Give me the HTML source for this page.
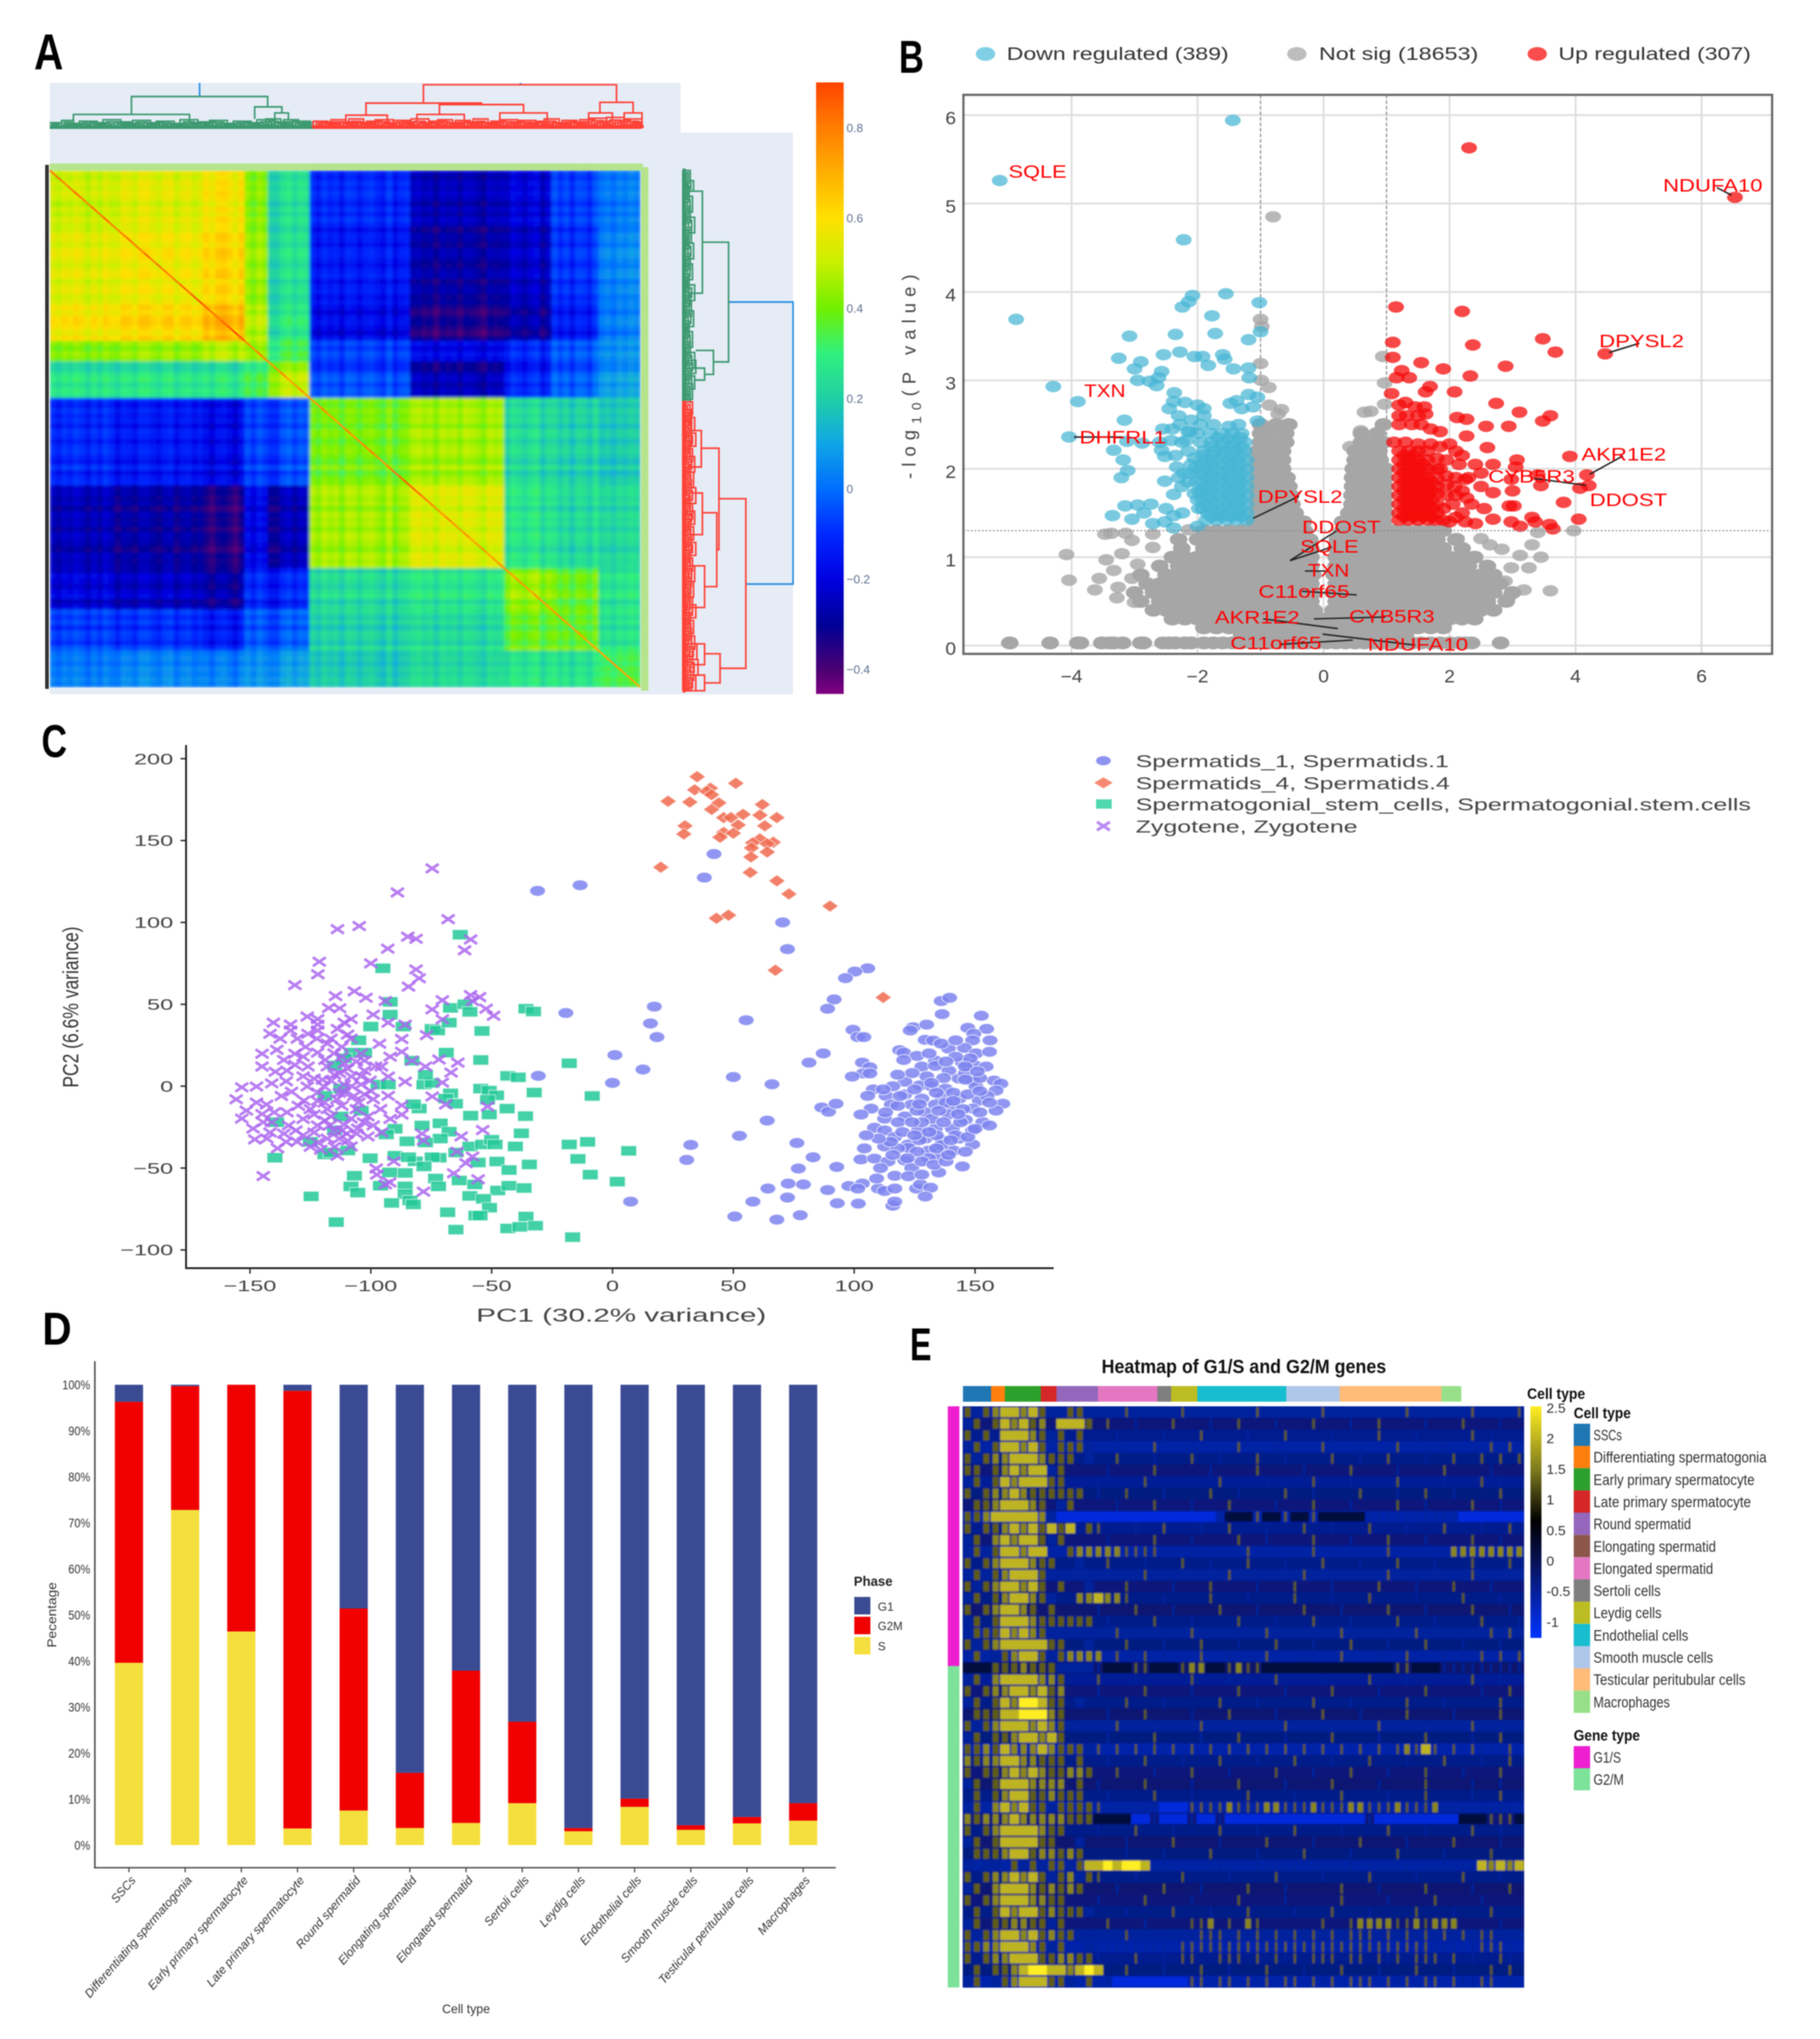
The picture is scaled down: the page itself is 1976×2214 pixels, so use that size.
<!DOCTYPE html>
<html lang="en">
<head>
<meta charset="utf-8">
<title>Multi-panel single-cell figure</title>
<style>
html,body{margin:0;padding:0;background:#fff}
svg{display:block;filter:blur(.6px)}
text{font-family:"Liberation Sans",sans-serif}
</style>
</head>
<body>
<svg id="figure" xmlns="http://www.w3.org/2000/svg" width="1976" height="2214" viewBox="0 0 1976 2214">
<defs>
<linearGradient id="cbarA" x1="0" y1="1" x2="0" y2="0"></linearGradient>
<linearGradient id="cbarE" x1="0" y1="1" x2="0" y2="0"></linearGradient>
<clipPath id="topDendroClip"><rect x="54" y="90" width="685" height="54"></rect></clipPath>
<filter id="softA" x="0" y="0" width="1" height="1"><feGaussianBlur stdDeviation="1.5"></feGaussianBlur></filter>
<filter id="softE" x="0" y="0" width="1" height="1"><feGaussianBlur stdDeviation="0.8"></feGaussianBlur></filter>
</defs>
<rect x="0" y="0" width="1976" height="2214" fill="#fff"></rect>

<!-- panel letters -->
<text transform="translate(37,75) scale(.8,1)" font-size="55" font-weight="bold" fill="#000">A</text>
<text transform="translate(976,79) scale(.75,1)" font-size="50" font-weight="bold" fill="#000">B</text>
<text transform="translate(45,822) scale(.77,1)" font-size="50" font-weight="bold" fill="#000">C</text>
<text transform="translate(46,1460) scale(.88,1)" font-size="50" font-weight="bold" fill="#000">D</text>
<text transform="translate(988,1477) scale(.7,1)" font-size="50" font-weight="bold" fill="#000">E</text>

<!-- panel A -->
<g id="panelA">
<rect x="54" y="90" width="685" height="664" fill="#e5ecf6"></rect>
<rect x="739" y="144" width="122" height="610" fill="#e5ecf6"></rect>
<g id="topDendro" clip-path="url(#topDendroClip)"></g>
<g id="sideDendro"></g>
<rect x="54" y="177.5" width="644" height="7.5" fill="#b5e48c"></rect>
<rect x="696" y="181.5" width="8" height="568.5" fill="#b5e48c"></rect>
<rect x="49" y="179" width="4" height="569" fill="#333"></rect>
<g id="corrCells" shape-rendering="crispEdges" filter="url(#softA)"></g>
<g id="corrDiagonal"></g>
<rect x="886" y="89.5" width="30" height="664" fill="url(#cbarA)"></rect>
<g id="corrTicks"></g>
</g>

<!-- panel B -->
<g id="panelB">
<ellipse cx="1070" cy="58.6" rx="10.5" ry="7.5" fill="#7fd0e6"></ellipse>
<text x="1093" y="65" font-size="19" fill="#333" textLength="241" lengthAdjust="spacingAndGlyphs">Down regulated (389)</text>
<ellipse cx="1408" cy="58.6" rx="10.5" ry="7.5" fill="#bdbdbd"></ellipse>
<text x="1432" y="65" font-size="19" fill="#333" textLength="173" lengthAdjust="spacingAndGlyphs">Not sig (18653)</text>
<ellipse cx="1669" cy="58.6" rx="10.5" ry="7.5" fill="#fb4d4d"></ellipse>
<text x="1692" y="65" font-size="19" fill="#333" textLength="209" lengthAdjust="spacingAndGlyphs">Up regulated (307)</text>
<g id="volcanoAxes"></g>
<g id="volcanoPoints"></g>
<rect x="1046" y="103" width="878" height="607" fill="none" stroke="#666" stroke-width="2.4"></rect>
<text transform="translate(994,520) rotate(-90)" font-size="20" fill="#444" textLength="222" lengthAdjust="spacing">-log<tspan font-size="15" dy="6">10</tspan><tspan dy="-6">(P value)</tspan></text>
<g stroke="#222" stroke-width="1.6">
<line x1="1864" y1="203.7" x2="1880" y2="212"></line>
<line x1="1747" y1="382.8" x2="1780" y2="372.7"></line>
<line x1="1166" y1="474.6" x2="1219" y2="474.6"></line>
<line x1="1726" y1="515" x2="1762" y2="495"></line>
<line x1="1666" y1="519.6" x2="1722" y2="527"></line>
<line x1="1360.5" y1="562.8" x2="1410" y2="539"></line>
<line x1="1400.6" y1="608.7" x2="1453.8" y2="574.7"></line>
<line x1="1400.6" y1="608.7" x2="1446" y2="594"></line>
<line x1="1416.8" y1="620" x2="1442.8" y2="620"></line>
<line x1="1413.6" y1="642" x2="1473" y2="646"></line>
<line x1="1371.5" y1="672" x2="1452.5" y2="682.6"></line>
<line x1="1426.6" y1="672" x2="1504" y2="670"></line>
<line x1="1391" y1="699.6" x2="1468.7" y2="695"></line>
<line x1="1436" y1="688.6" x2="1536.7" y2="700.5"></line>
</g>
<g font-size="19" fill="#f00">
<text x="1095" y="193" textLength="63" lengthAdjust="spacingAndGlyphs">SQLE</text>
<text x="1805.6" y="208" textLength="108" lengthAdjust="spacingAndGlyphs">NDUFA10</text>
<text x="1736.3" y="377" textLength="92" lengthAdjust="spacingAndGlyphs">DPYSL2</text>
<text x="1177" y="431" textLength="45" lengthAdjust="spacingAndGlyphs">TXN</text>
<text x="1172" y="481.6" textLength="94" lengthAdjust="spacingAndGlyphs">DHFRL1</text>
<text x="1717" y="500" textLength="92" lengthAdjust="spacingAndGlyphs">AKR1E2</text>
<text x="1615.8" y="524" textLength="94" lengthAdjust="spacingAndGlyphs">CYB5R3</text>
<text x="1726" y="549.6" textLength="84" lengthAdjust="spacingAndGlyphs">DDOST</text>
<text x="1365.6" y="546" textLength="92" lengthAdjust="spacingAndGlyphs">DPYSL2</text>
<text x="1413.6" y="579" textLength="85.5" lengthAdjust="spacingAndGlyphs">DDOST</text>
<text x="1411.7" y="600" textLength="63.5" lengthAdjust="spacingAndGlyphs">SQLE</text>
<text x="1420" y="626" textLength="45" lengthAdjust="spacingAndGlyphs">TXN</text>
<text x="1366.3" y="649" textLength="99" lengthAdjust="spacingAndGlyphs">C11orf65</text>
<text x="1319" y="677" textLength="92" lengthAdjust="spacingAndGlyphs">AKR1E2</text>
<text x="1464.8" y="676" textLength="92.7" lengthAdjust="spacingAndGlyphs">CYB5R3</text>
<text x="1335.8" y="705" textLength="99" lengthAdjust="spacingAndGlyphs">C11orf65</text>
<text x="1485" y="706.6" textLength="109" lengthAdjust="spacingAndGlyphs">NDUFA10</text>
</g>
</g>

<!-- panel C -->
<g id="panelC">
<g id="pcaAxes"></g>
<g id="pcaPoints"></g>
<text x="517" y="1435" font-size="20" fill="#444" textLength="315" lengthAdjust="spacingAndGlyphs">PC1 (30.2% variance)</text>
<text transform="translate(85,1181) rotate(-90)" font-size="24" fill="#333" textLength="175" lengthAdjust="spacingAndGlyphs">PC2 (6.6% variance)</text>
<ellipse cx="1198" cy="826" rx="8" ry="5" fill="#8d93f2"></ellipse>
<text x="1233" y="833" font-size="18" fill="#444" textLength="340" lengthAdjust="spacingAndGlyphs">Spermatids_1, Spermatids.1</text>
<polygon points="1188,850 1198,844 1208,850 1198,856" fill="#f58a72"></polygon>
<text x="1233" y="857" font-size="18" fill="#444" textLength="341" lengthAdjust="spacingAndGlyphs">Spermatids_4, Spermatids.4</text>
<rect x="1190" y="868" width="17" height="10" fill="#4fd8ae"></rect>
<text x="1233" y="880" font-size="18" fill="#444" textLength="668" lengthAdjust="spacingAndGlyphs">Spermatogonial_stem_cells, Spermatogonial.stem.cells</text>
<path d="M1191 892.5L1205 901.5M1205 892.5L1191 901.5" stroke="#b98af5" stroke-width="3.2" fill="none"></path>
<text x="1233" y="904" font-size="18" fill="#444" textLength="241" lengthAdjust="spacingAndGlyphs">Zygotene, Zygotene</text>
</g>

<!-- panel D -->
<g id="panelD">
<g id="barAxes"></g>
<g id="barMarks"></g>
<text transform="translate(61,1789) rotate(-90)" font-size="14" fill="#333" textLength="71" lengthAdjust="spacingAndGlyphs">Pecentage</text>
<text x="480" y="2186" font-size="14" fill="#333" textLength="52" lengthAdjust="spacingAndGlyphs">Cell type</text>
<text x="927" y="1722" font-size="15" font-weight="bold" fill="#222" textLength="42" lengthAdjust="spacingAndGlyphs">Phase</text>
<rect x="927.5" y="1734" width="17.5" height="19" fill="#3a4b94"></rect>
<text x="953" y="1749" font-size="13" fill="#333">G1</text>
<rect x="927.5" y="1755.5" width="17.5" height="19" fill="#f00000"></rect>
<text x="953" y="1770" font-size="13" fill="#333" textLength="27" lengthAdjust="spacingAndGlyphs">G2M</text>
<rect x="927.5" y="1777.5" width="17.5" height="19" fill="#f5df3e"></rect>
<text x="953" y="1792" font-size="13" fill="#333">S</text>
</g>

<!-- panel E -->
<g id="panelE">
<text x="1196" y="1491" font-size="21" font-weight="bold" fill="#111" textLength="309" lengthAdjust="spacingAndGlyphs">Heatmap of G1/S and G2/M genes</text>
<g id="cellStrip" shape-rendering="crispEdges"></g>
<rect x="1029" y="1527" width="12.6" height="282" fill="#ee1fd0"></rect>
<rect x="1029" y="1809" width="12.6" height="349" fill="#7de29a"></rect>
<rect x="1045.4" y="1527" width="609.2" height="631" fill="#061c88"></rect>
<g id="exprCells" filter="url(#softE)"></g>
<rect x="1661.6" y="1527" width="12" height="251.5" fill="url(#cbarE)"></rect>
<g id="exprTicks"></g>
<text x="1658" y="1519" font-size="17" font-weight="bold" fill="#111" textLength="63" lengthAdjust="spacingAndGlyphs">Cell type</text>
<text x="1708.6" y="1540" font-size="17" font-weight="bold" fill="#111" textLength="62" lengthAdjust="spacingAndGlyphs">Cell type</text>
<g id="cellLegend"></g>
<text x="1708.6" y="1890" font-size="17" font-weight="bold" fill="#111" textLength="72" lengthAdjust="spacingAndGlyphs">Gene type</text>
<rect x="1708.6" y="1896" width="17.8" height="24" fill="#ee1fd0"></rect>
<text x="1730" y="1914" font-size="17" fill="#333" textLength="30" lengthAdjust="spacingAndGlyphs">G1/S</text>
<rect x="1708.6" y="1920" width="17.8" height="24" fill="#7de29a"></rect>
<text x="1730" y="1938" font-size="17" fill="#333" textLength="33" lengthAdjust="spacingAndGlyphs">G2/M</text>
</g>
</svg>

<script>
/* ---------- panel A data ---------- */
const corrClusterSizes=[11,15,7,4,7,17,16,8,8,7];
const corrBlocks=[
[.5,.53,.57,.41,.24,-.12,-.27,-.22,-.08,-.02],
[.53,.56,.6,.43,.24,-.15,-.3,-.25,-.1,0],
[.57,.6,.66,.46,.26,-.2,-.36,-.3,-.15,-.02],
[.41,.43,.46,.43,.32,-.08,-.2,-.12,-.04,.02],
[.26,.26,.26,.32,.48,-.06,-.27,-.12,-.03,.05],
[-.12,-.15,-.2,-.08,-.06,.39,.44,.22,.2,.14],
[-.27,-.3,-.36,-.2,-.27,.44,.51,.25,.22,.18],
[-.22,-.25,-.3,-.12,-.12,.22,.25,.43,.38,.22],
[-.08,-.1,-.15,-.04,-.03,.2,.22,.38,.38,.22],
[-.02,0,-.02,.02,.05,.14,.18,.22,.22,.26]];
const geneOffsets=[.01,-.02,.02,0,.03,.01,-.03,.02,-.02,.03,0,
-.03,.02,.01,-.02,.03,.03,0,-.02,.02,.03,-.03,.01,.02,-.02,0,
.02,-.02,.03,.04,.01,-.03,.03,
.02,-.02,.03,0,
-.05,-.05,.01,.03,-.02,.02,.01,
.02,-.02,.03,0,.02,-.03,.03,.02,-.02,.02,.03,0,-.03,.04,-.04,.01,.02,
.02,.03,0,.02,-.03,.03,.01,.02,-.02,.03,.02,0,-.03,.03,.01,.02,
-.03,.03,.01,-.02,.02,.04,-.04,.01,
.03,-.02,.02,-.04,.02,.01,-.03,.04,
.02,.04,.01,.05,.03,.06,.04];
const corrDiagonalValues=[.8,.82,.78,.8,.84,.8,.78,.82,.8,.84,.8,.78,.8,.82,.8,.78,.84,.8,.82,.8,.78,.8,.84,.82,.86,.88,.84,.82,.8,.84,.86,.9,.86,.78,.76,.8,.78,.74,.76,.78,.72,.74,.76,.72,.74,.76,.78,.74,.72,.76,.78,.74,.76,.78,.8,.76,.74,.78,.82,.84,.86,.84,.82,.8,.78,.76,.74,.78,.76,.74,.76,.72,.74,.76,.72,.74,.76,.74,.72,.76,.74,.72,.76,.74,.72,.74,.76,.74,.72,.74,.72,.7,.72,.7,.72,.74,.72,.7,.72,.7];
const corrScale=[[-.454,128,0,128],[-.4,75,0,115],[-.3,0,0,150],[-.2,0,0,225],[-.1,0,40,255],[0,0,110,255],[.1,16,165,230],[.2,32,208,165],[.3,48,240,125],[.4,112,240,0],[.5,200,240,0],[.6,255,224,0],[.7,255,175,0],[.8,255,125,0],[.9,255,69,0]];
const corrTickValues=[.8,.6,.4,.2,0,-.2,-.4];
const corrTickLabels=['0.8','0.6','0.4','0.2','0','\u22120.2','\u22120.4'];
const treeLeft=[.253,.138,.04,.346,.38,.631,.534,.658,.929,.5,.62,.76,.91,.97,.46,.0,.445];
const treeRight=[.795,.368,.236,.392,.403,.957,.729,.8,.985,.57,.7,.84,.95,1,.53,.445,1];
const treeHeight=[1,.417,.18,.28,.2,.573,.33,.31,.34,.17,.18,.2,.2,.2,.08,.012,.012];
const treeLeftChild=[.417,.18,.07,.12,.1,.33,.17,.18,.2,.08,.1,.09,.12,.07,.04,0,0];
const treeRightChild=[.573,.28,.07,.2,.1,.34,.31,.2,.2,.09,.08,.08,.08,.12,.04,0,0];
const treeClade=['b','g','g','g','g','r','r','r','r','r','r','r','r','r','r','g','r'];
const combLeft=[.0,.02,.03,.05,.07,.09,.11,.125,.14,.16,.18,.2,.22,.235,.25,.27,.29,.31,.33,.35,.365,.38,.395,.41,.425,.445,.46,.475,.49,.505,.52,.535,.55,.565,.58,.595,.61,.625,.64,.655,.67,.685,.7,.715,.73,.745,.76,.775,.79,.805,.82,.835,.85,.865,.88,.895,.91,.925,.94,.955,.97,.985];
const combRight=[.02,.04,.06,.08,.1,.12,.14,.15,.17,.19,.21,.23,.25,.26,.28,.3,.32,.34,.36,.38,.39,.41,.42,.44,.445,.47,.49,.5,.52,.53,.55,.56,.58,.59,.61,.62,.64,.65,.67,.68,.7,.71,.73,.74,.76,.77,.79,.8,.82,.83,.85,.86,.88,.89,.91,.92,.94,.95,.97,.98,1,1];
const combHeight=[.07,.1,.06,.09,.07,.11,.08,.06,.1,.07,.09,.06,.11,.07,.08,.1,.06,.09,.07,.11,.12,.08,.11,.09,.07,.09,.07,.11,.08,.12,.07,.09,.11,.07,.1,.08,.12,.07,.09,.11,.07,.1,.08,.12,.07,.09,.11,.08,.1,.07,.09,.12,.07,.1,.08,.11,.13,.09,.14,.1,.12,.08];

/* ---------- panel B data ---------- */
const volcanoXTicks=[-4,-2,0,2,4,6];
const volcanoYTicks=[0,1,2,3,4,5,6];
const notSigLevels=[.03,.12,.2,.3,.4,.5,.6,.7,.8,.9,1,1.1,1.2,1.3,1.4,1.5,1.6,1.7,1.8,1.9,2,2.1,2.2,2.3,2.4,2.5];
const notSigRows=[
[-4.98,-4.34,-3.9,-3.86,-3.52,-3.4,-3.33,-3.19,-2.9,-2.86,-2.55,-2.45,-2.35,-2.2,-2.1,-1.9,-1.75,-1.6,-1.45,-1.3,-1.15,-1,-.85,-.7,-.55,-.4,-.25,-.1,.05,.2,.35,.5,.65,.8,.95,1.1,1.25,1.4,1.55,1.7,1.85,2,2.15,2.25,2.35,2.81],
[-1.3,-1.1,-.9,-.7,-.5,-.3,-.1,.1,.3,.5,.7,.9,1.1,1.3],
[-1.9,-1.7,-1.5,-1.3,-1.1,-.9,-.7,-.5,-.3,-.1,.1,.3,.5,.7,.9,1.1,1.3,1.5,1.7,1.9],
[-2.4,-2.2,-2,-1.8,-1.6,-1.4,-1.2,-1,-.8,-.6,-.4,-.2,0,.2,.4,.6,.8,1,1.2,1.4,1.6,1.8,2,2.2,2.4],
[-2.7,-2.5,-2.3,-2.1,-1.9,-1.7,-1.5,-1.3,-1.1,-.9,-.7,-.5,-.3,-.15,.15,.3,.5,.7,.9,1.1,1.3,1.5,1.7,1.9,2.1,2.3,2.5,2.7],
[-2.9,-2.6,-2.4,-2.2,-2,-1.8,-1.6,-1.4,-1.2,-1,-.8,-.6,-.4,-.2,.2,.4,.6,.8,1,1.2,1.4,1.6,1.8,2,2.2,2.4,2.6,2.9],
[-3,-2.7,-2.5,-2.3,-2.1,-1.9,-1.7,-1.5,-1.3,-1.1,-.9,-.7,-.5,-.3,-.15,.15,.3,.5,.7,.9,1.1,1.3,1.5,1.7,1.9,2.1,2.3,2.5,2.7,3],
[-2.8,-2.6,-2.4,-2.2,-2,-1.8,-1.6,-1.4,-1.2,-1,-.8,-.6,-.4,-.2,.2,.4,.6,.8,1,1.2,1.4,1.6,1.8,2,2.2,2.4,2.6,2.8],
[-2.9,-2.5,-2.3,-2.1,-1.9,-1.7,-1.5,-1.3,-1.1,-.9,-.7,-.5,-.3,-.17,.17,.3,.5,.7,.9,1.1,1.3,1.5,1.7,1.9,2.1,2.3,2.5,2.7],
[-2.6,-2.3,-2.1,-1.9,-1.7,-1.5,-1.3,-1.1,-.9,-.7,-.5,-.35,-.2,.2,.35,.5,.7,.9,1.1,1.3,1.5,1.7,1.9,2.1,2.3,2.6],
[-2.4,-2.2,-2,-1.8,-1.6,-1.4,-1.2,-1,-.8,-.6,-.4,-.2,.2,.4,.6,.8,1,1.2,1.4,1.6,1.8,2,2.2,2.4],
[-2.25,-1.9,-1.7,-1.5,-1.3,-1.1,-.9,-.7,-.5,-.35,-.2,.2,.35,.5,.7,.9,1.1,1.3,1.5,1.7,1.9,2.2],
[-2.3,-2,-1.8,-1.6,-1.4,-1.2,-1,-.8,-.6,-.4,-.22,.22,.4,.6,.8,1,1.2,1.4,1.6,1.8,2.1],
[-1.9,-1.7,-1.5,-1.3,-1.1,-.9,-.7,-.5,-.3,.3,.5,.7,.9,1.1,1.3,1.5,1.7,1.9],
[-1.1,-.9,-.7,-.5,-.32,.3,.5,.7,.95],
[-1.05,-.85,-.65,-.45,.4,.6,.8,.98],
[-1.05,-.85,-.65,-.5,.45,.65,.85,.98],
[-1.05,-.85,-.65,-.52,.45,.65,.85,.98],
[-1.05,-.85,-.7,-.55,.46,.65,.85,.98],
[-1.05,-.85,-.7,-.58,.46,.65,.85,.98],
[-1.05,-.85,-.65,.47,.65,.82,.98],
[-1.05,-.85,-.65,.5,.7,.9],
[-1.05,-.85,-.65,.5,.7,.88],
[-1,-.8,-.6,.6,.8,.95],
[-1,-.85,-.6,.6,.85],
[-1,-.75,-.55,.95]];
const notSigScatter=[[-.8,4.85],[-1,3.69],[-.98,3.61],[-1,3.19],[-.99,3],[-.87,2.92],[.94,3.27],[.97,2.97],[-.86,2.72],[-.67,2.67],[-.72,2.62],[.65,2.64],[.75,2.65],[.97,2.73],[.59,2.43],[.42,2.25],[-4.08,1.03],[-4.04,.74],[-3.63,.63],[-3.56,.76],[-3.45,.97],[-3.33,.85],[-3.47,1.26],[-3.37,1.27],[-3.14,1.27],[-3.04,1.19],[-3.2,1.04],[-3.26,.66],[-3.28,.54],[-3.04,.76],[-3,.49],[-2.71,1.26],[-2.71,1.11],[-2.14,1.31],[-2.95,.92],[3.97,1.3],[3.6,.62],[3.45,1],[3.26,.88],[3.18,.63],[2.93,.54],[2.88,.73],[2.5,1.21],[2.64,1.14],[2.83,1.09],[3.12,1.02],[3.31,1.14],[3.4,1.28],[2.98,.88],[2.12,1.21]];
const downRegulated=[[-5.14,5.26],[-1.44,5.94],[-2.22,4.59],[-4.88,3.69],[-2.08,3.96],[-1.55,3.98],[-1.02,3.88],[-2.24,3.83],[-2.14,3.89],[-1.77,3.73],[-3.08,3.5],[-2.35,3.52],[-1.72,3.53],[-1.19,3.46],[-1,3.55],[-3.25,3.25],[-2.54,3.29],[-2.28,3.32],[-2.05,3.27],[-1.92,3.27],[-1.6,3.29],[-1.57,3.24],[-2.9,3.21],[-3,3.13],[-1.83,3.17],[-1.43,3.13],[-1.19,3.14],[-1.18,3.03],[-2.57,3.1],[-2.62,3.03],[-4.29,2.93],[-2.95,3],[-2.76,2.99],[-2.65,2.94],[-3.9,2.76],[-2.37,2.86],[-1.19,2.84],[-1.05,2.81],[-1.38,2.77],[-1.48,2.74],[-2.38,2.76],[-2.2,2.75],[-2.45,2.68],[-2,2.72],[-1.9,2.68],[-2.3,2.6],[-1.9,2.6],[-3.16,2.55],[-1.05,2.54],[-2.1,2.55],[-1.3,2.68],[-1.12,2.7],[-4.04,2.36],[-3.33,2.21],[-3.12,2.31],[-2.88,2.29],[-3.18,2.1],[-3.11,1.98],[-3.21,1.9],[-2.52,1.86],[-2.38,1.71],[-3.35,1.47],[-3.15,1.58],[-2.95,1.59],[-2.74,1.6],[-2.85,1.5],[-3.04,1.43],[-2.5,1.55],[-2.71,1.38],[-2.52,1.4],[-2.38,1.47],[-2.38,1.33],[-2.24,1.5],[-2,1.35],[-2.57,2.21],[-2.52,2.14],[-2.33,2.02],[-2.22,1.95],[-2.15,1.85],[-2.05,1.72],[-2.55,2.45],[-2.4,2.45],[-2.6,2.3],[-2.25,2.3],[-2.35,2.15],[-2.15,2.2],[-2.1,2.05],[-2.25,1.8],[-2.42,2.32],[-2.28,2.5],[-2.12,2.42],[-2.18,2.32],[-2.3,1.9],[-2.12,1.95],
[-1.22,1.42],[-1.38,1.42],[-1.54,1.42],[-1.7,1.42],[-1.86,1.42],[-1.3,1.46],[-1.46,1.46],[-1.62,1.46],[-1.78,1.46],[-1.22,1.5],[-1.36,1.5],[-1.52,1.5],[-1.68,1.5],[-1.84,1.5],[-1.98,1.55],[-1.3,1.55],[-1.46,1.55],[-1.62,1.55],[-1.78,1.55],[-1.92,1.55],[-1.22,1.6],[-1.38,1.6],[-1.52,1.6],[-1.7,1.6],[-1.86,1.6],[-2,1.65],[-1.3,1.65],[-1.46,1.65],[-1.62,1.65],[-1.78,1.65],[-1.92,1.65],[-1.22,1.7],[-1.36,1.7],[-1.52,1.7],[-1.68,1.7],[-1.84,1.7],[-1.98,1.75],[-1.3,1.75],[-1.46,1.75],[-1.62,1.75],[-1.78,1.75],[-1.92,1.75],[-1.22,1.8],[-1.38,1.8],[-1.52,1.8],[-1.7,1.8],[-1.86,1.8],[-2.02,1.85],[-1.3,1.85],[-1.46,1.85],[-1.62,1.85],[-1.78,1.85],[-1.92,1.85],[-1.22,1.9],[-1.36,1.9],[-1.52,1.9],[-1.68,1.9],[-1.84,1.9],[-2,1.95],[-1.3,1.95],[-1.46,1.95],[-1.62,1.95],[-1.78,1.95],[-1.92,1.95],[-1.22,2],[-1.38,2],[-1.52,2],[-1.7,2],[-1.86,2],[-2.02,2.02],[-1.3,2.05],[-1.46,2.05],[-1.62,2.05],[-1.78,2.05],[-1.92,2.05],[-1.22,2.1],[-1.38,2.1],[-1.52,2.1],[-1.7,2.1],[-1.86,2.1],[-2.05,2.12],[-1.3,2.15],[-1.46,2.15],[-1.62,2.15],[-1.78,2.15],[-1.92,2.15],[-1.25,2.2],[-1.4,2.2],[-1.55,2.2],[-1.72,2.2],[-1.9,2.2],[-1.3,2.25],[-1.46,2.25],[-1.62,2.25],[-1.78,2.25],[-1.25,2.3],[-1.42,2.3],[-1.6,2.3],[-1.78,2.3],[-1.95,2.3],[-1.32,2.35],[-1.5,2.35],[-1.68,2.35],[-1.3,2.4],[-1.45,2.4],[-1.62,2.4],[-1.8,2.4],[-2,2.4],[-2.15,2.42],[-1.35,2.5],[-1.5,2.48],[-1.75,2.5],[-1.95,2.5]];
const upRegulated=[[2.31,5.63],[6.53,5.07],[1.15,3.83],[2.2,3.78],[1.1,3.43],[2.37,3.4],[3.48,3.47],[3.68,3.32],[4.47,3.3],[1.1,3.26],[1.55,3.2],[1.9,3.13],[2.89,3.16],[1.24,3.11],[1.16,3.03],[1.36,3.03],[2.33,3.05],[1.69,2.93],[1.62,2.87],[2.08,2.87],[1.08,2.85],[2.74,2.74],[3.11,2.64],[3.6,2.6],[3.48,2.54],[2.12,2.58],[2.27,2.56],[2.58,2.48],[2.94,2.48],[2.27,2.37],[3.91,2.14],[4.18,1.93],[4.21,1.81],[4.07,1.78],[3.81,1.62],[4.05,1.43],[3.07,2.1],[3.05,2.02],[3.4,1.93],[3.45,1.81],[2.98,1.88],[3,1.75],[2.69,1.73],[2.95,1.58],[3.02,1.58],[2.98,1.4],[3.12,1.35],[3.31,1.45],[3.36,1.4],[3.59,1.37],[3.64,1.32],[2.69,1.43],[2.41,1.38],[2.55,1.55],[2.27,1.67],[2.41,2.05],[2.69,2.05],[2.6,2.24],[2.5,1.95],[2.5,1.8],
[1.2,2.72],[1.3,2.75],[1.45,2.7],[1.6,2.7],[1.2,2.6],[1.32,2.6],[1.5,2.6],[1.62,2.62],[1.2,2.5],[1.4,2.5],[1.55,2.5],[1.7,2.45],[1.85,2.42],[1.12,2.3],[1.3,2.3],[1.5,2.28],[1.7,2.28],[1.85,2.25],[2.1,2.2],[2,2.28],[2.2,2.15],[1.95,2.1],[2.15,2.05],
[1.2,1.42],[1.35,1.42],[1.5,1.42],[1.65,1.42],[1.78,1.42],[1.28,1.46],[1.43,1.46],[1.58,1.46],[1.72,1.46],[1.2,1.5],[1.35,1.5],[1.5,1.5],[1.65,1.5],[1.8,1.5],[1.28,1.55],[1.43,1.55],[1.58,1.55],[1.72,1.55],[1.2,1.6],[1.35,1.6],[1.5,1.6],[1.65,1.6],[1.8,1.6],[1.28,1.65],[1.43,1.65],[1.58,1.65],[1.72,1.65],[1.2,1.7],[1.35,1.7],[1.5,1.7],[1.65,1.7],[1.8,1.72],[1.95,1.7],[1.28,1.75],[1.43,1.75],[1.58,1.75],[1.72,1.75],[1.2,1.8],[1.35,1.8],[1.5,1.8],[1.65,1.8],[1.8,1.8],[1.95,1.82],[2.08,1.8],[1.28,1.85],[1.43,1.85],[1.58,1.85],[1.72,1.85],[1.2,1.9],[1.35,1.9],[1.5,1.9],[1.65,1.9],[1.8,1.9],[1.95,1.92],[2.1,1.9],[1.28,1.95],[1.43,1.95],[1.58,1.95],[1.2,2],[1.35,2],[1.5,2],[1.65,2],[1.8,2],[1.28,2.05],[1.43,2.05],[1.58,2.05],[1.2,2.1],[1.35,2.1],[1.5,2.1],[1.65,2.1],[1.8,2.12],[1.28,2.15],[1.43,2.15],[1.2,2.2],[1.35,2.2],[1.5,2.2],[1.65,2.2],[1.9,1.55],[2.1,1.45],[2.05,1.6],[2.2,1.5],[2.25,1.4],[2,1.4],[2.2,1.75],[2.35,1.6],[2.3,1.9],[1.85,2],[1.9,1.42],[2.1,1.7],[2.25,1.88]];

/* ---------- panel C data ---------- */
const pcaXTicks=[-150,-100,-50,0,50,100,150];
const pcaYTicks=[200,150,100,50,0,-50,-100];
const spermatids1=[[42,141.8],[38,127.4],[-31,119.3],[-13.4,122.7],[70.4,100],[72.4,83.7],[105.6,72],[100.3,70],[96.4,66],[91.7,53],[89,47.3],[17.3,48.6],[-19.3,44.7],[15.7,38.3],[18.4,30],[55.3,40.3],[1,19],[12.6,10.2],[0,2],[-30.7,6.3],[50,5.6],[66,1.2],[81.3,14.4],[87.2,20],[86.6,-13],[89.4,-15.6],[92.5,-10.7],[64,-21],[52.5,-30.3],[32.4,-35.9],[30.7,-45],[76.3,-34.7],[83,-43.4],[76.9,-50.3],[92.8,-49.3],[72.7,-59.5],[79,-60],[64.3,-62.5],[58.1,-70.5],[50.6,-79.6],[68,-81.5],[77.7,-78.8],[72.4,-68],[7.5,-70.5],[89,-63.4],[93,-71.5],[97.8,-61],[103.4,-59.5],[101.5,-62.5],[101.7,-71.7],[110,-62.5],[112.6,-64],[116.8,-62.5],[116,-73],[116.8,-70.5],[125.8,-62.5],[127.4,-60],[131.6,-62],[129.4,-67.4],[136,52],[139.5,54],[136.4,44],[152.6,43],[99.5,34.4],[101.5,30],[104,30],[124.4,36],[130,37.6],[123.2,34],[147,35.6],[154.8,35],[149.5,32],[149,28],[156.2,28],[129.4,28.3],[132.8,27.8],[139,23],[145.6,23.4],[118.8,22],[120.5,20.5],[126,18.5],[120.5,16],[150.4,20],[156,21],[103.4,14.4],[106.5,11.5],[103.7,7.8],[99.2,5.9],[106.5,7.8],[133.6,15.6],[128,12],[133.6,12.4],[139.2,9.5],[144.8,14.4],[149.5,13],[154.6,12],[143.4,4.6],[149,3.4],[157.9,3.4],[160.7,1.5],[121,2.7],[127.2,.5],[132.2,-.2],[137.8,-1.5],[150.4,-.2],[158.7,-2.7],[107.9,-2],[105.6,-5.9],[113.2,-5.9],[121,-5],[128,-7.6],[136.4,-6.8],[143.4,-7.6],[151.8,-8.8],[161.5,-10.7],[115.4,-11.2],[123.8,-11.2],[133.6,-11.2],[140.6,-12.4],[149,-13.7],[158.7,-14.9],[107,-13.7],[102.8,-17.3],[112.6,-19.8],[121,-18.5],[129.4,-16],[139,-17.3],[146,-20.5],[153.2,-22],[108.4,-25.4],[118.2,-22],[126.6,-27],[133.6,-25.9],[140.6,-25.9],[149,-27],[112.6,-27],[116.8,-31],[122.4,-35.6],[129.4,-32],[136.4,-33],[143.4,-32],[149,-35.6],[104.2,-38],[112.6,-36.8],[122.4,-37.6],[130.8,-39.3],[141,-39.3],[135,-43],[130.8,-44],[144.8,-49],[102.8,-44.7],[108.4,-44.2],[114,-46],[121,-45.4],[135,-52.7],[110.9,-50],[123.8,-50],[109.3,-56.4],[116.8,-54.7],[122.4,-55],[137,5],[141,-4],[146,8],[132,-20],[138,-10],[145,-14],[128,-22],[134,-30],[144,-22],[152,5],[148,17],[142,18],[136,-36],[126,-40],[118,-12],[126,-15],
[131,20],[136,26],[142,28],[146,12],[151,9],[155,-6],[147,-5],[141,-9],[134,-4],[130,6],[124,8],[116,0],[112,-2],[120,-28],[124,-22],[131,-28],[137,-22],[142,-30],[147,-31],[152,-16],[156,-10],[128,-46],[133,-48],[138,-46],[140,-33],[118,-38],[127,-33],[134,-38],[115,-34],[125,-30],[110,-32],[105,-30],[139,-42],[146,-40],[150,-26],[156,-24],[143,-17],[135,-15],[127,-11],[119,-6],[138,15],[146,4],[152,-3],[125,-2],[132,2],[118,7],[113,-16],[122,-44],[128,-54],[116,-42]];
const spermatids4=[[35,189],[51,185],[34,181],[40.5,182],[39,180],[41,178],[23,174],[32,173.5],[44,173],[41,169],[62,172],[46,164],[49,164],[54,166],[61,165.5],[68,164],[30,159],[52,159.5],[63,159],[29.5,154],[46,155],[44.5,152],[50,154.5],[61,151],[58,148.6],[66.5,149],[64,148],[57.5,145.5],[64,143],[57.3,140],[20,133.7],[57,130.5],[68,125.4],[73,117.4],[90,110],[43,102.5],[48,104.4],[67.4,70.8],[112,54.2]];
const stemCells=[[-63,92.5],[-95,72],[-92,51.5],[-92,43.7],[-100,36.4],[-86.6,36.4],[-74.6,35],[-72.4,34],[-67.6,38.8],[-67,47.8],[-61,50],[-59,45.4],[-54,33.7],[-35.8,47.3],[-32.7,45.6],[-68.8,20.5],[-54.5,16],[-17.9,14],[-43.3,6.3],[-39,5.4],[-32.4,-3.9],[-8.4,-6],[-54.5,-1.5],[-51,-2.7],[-48,-5.6],[-51.7,-8.3],[-43.6,-13.7],[-51,-17.3],[-58.7,-18],[-36,-18.3],[-67,-4.4],[-69,-7.6],[-65,-10.7],[-80,-13.7],[-82.4,-11],[-78,1],[-74.6,2],[-77.4,7],[-83,15.6],[-97,1],[-92.8,1],[-105,28],[-108,20.5],[-111,17],[-115,12.7],[-102.6,20.5],[-112.4,-1.5],[-119,-5.9],[-104,-15],[-112.4,-18.5],[-139.7,-43.7],[-139,-22],[-125,-34],[-115,-27],[-119,-41.7],[-116.5,-40.5],[-109.6,-39.3],[-100.3,-44],[-90,-26],[-93.6,-29.5],[-85,-33.7],[-78.8,-24],[-71.3,-22.7],[-67.6,-27.8],[-71.3,-32],[-77.4,-34.4],[-59,-36.8],[-53.7,-35.6],[-50,-32.7],[-48.6,-35.6],[-37.7,-28.8],[-40.2,-36.8],[-17.9,-35.6],[-10.3,-34],[6.7,-39.5],[-14.3,-44.4],[-9.2,-54],[2,-58.3],[-34.4,-47.8],[-47.8,-46],[-42.8,-51.2],[-55.6,-46.6],[-64.8,-40.5],[-71.8,-43.7],[-74.6,-43.4],[-81.6,-45.9],[-90,-42.5],[-84.4,-43.4],[-78,-49],[-85.8,-53],[-92.2,-52.7],[-106.8,-54.7],[-108.2,-61.2],[-105.4,-65],[-96,-60.8],[-85.8,-61.2],[-73.2,-56.4],[-72,-61.2],[-63.4,-57.6],[-57,-60],[-47.5,-63.7],[-42.8,-60.8],[-36.6,-62.2],[-59,-67],[-53.4,-68.8],[-85.8,-66],[-91.4,-71.3],[-83.8,-69.8],[-82.4,-72.2],[-50.9,-74.2],[-124.7,-67.3],[-68.2,-77],[-56.5,-79],[-54.8,-79],[-35.8,-79.6],[-114.3,-83],[-64.8,-87.6],[-43.3,-86.9],[-38.3,-85.9],[-31.9,-85.2],[-16.5,-92.2]];
const zygotene=[[-74.6,133],[-89,118.3],[-68,102],[-104.8,97.8],[-113.8,95.9],[-58.7,89.6],[-84.7,91.3],[-81.3,90],[-93,84],[-61.2,83],[-121.3,76],[-100,75],[-81.3,71.3],[-121.9,68.3],[-80,65.9],[-84.4,60.8],[-131.4,61.7],[-106.8,58],[-114.6,55],[-102,54],[-94,52],[-70.4,52.5],[-58.7,55.6],[-55,54.4],[-57.9,52],[-117.4,47.8],[-112.9,47.6],[-74.6,46.9],[-52.3,47.3],[-99,43.7],[-49.2,43],[-70.4,40.8],[-126.3,42.5],[-122,41],[-108.2,41],[-140.3,38.8],[-133.2,37.6],[-122,37.6],[-111,38.8],[-92.8,38.8],[-85.8,37.6],[-141.7,32],[-133.2,34],[-122,34],[-113.8,35],[-109.6,31.5],[-137.5,29],[-130.4,29],[-122.3,29],[-116.5,29],[-108.2,29],[-87.2,28.8],[-76.9,31.2],[-96.4,25.9],[-138.9,22.2],[-145,19.8],[-131.4,19.8],[-122,20.5],[-115.2,20],[-87.2,21],[-102.6,15.6],[-83,15.6],[-71.8,16.3],[-64,14.4],[-145,12],[-131.4,13],[-139.5,8.8],[-134.7,9.5],[-95.6,12],[-77.4,12],[-66.8,8.3],[-123.5,4.6],[-109.6,10.7],[-102.6,9.5],[-92.8,5.9],[-116.5,3.4],[-108,5.9],[-100.3,3.4],[-141,1.7],[-85.8,2.7],[-70.4,2.2],[-147.3,-.2],[-153.4,-.7],[-126.3,-.2],[-119.3,-.2],[-111,1],[-104,1],[-92.8,-5.9],[-155.7,-8],[-132.8,-3.4],[-122,-3.9],[-111,-3.9],[-102.6,-5],[-127.7,-8.8],[-119.3,-10],[-147.3,-10],[-143.1,-11.2],[-74.6,-6.3],[-69,-11.2],[-87.2,-11.7],[-51.7,-12.4],[-134.7,-16],[-123.5,-17.3],[-151.5,-14.9],[-153.4,-19.8],[-144.5,-22],[-116.5,-18.5],[-108.2,-19.8],[-101.2,-18.5],[-87.2,-17.3],[-111,-23.4],[-148.7,-25.9],[-141.7,-28.3],[-136,-29],[-123.5,-28.3],[-115.2,-27],[-105.4,-25.9],[-95.6,-28.3],[-53.7,-26.8],[-148,-32.5],[-143,-32],[-130.5,-34],[-122,-34.4],[-109.6,-33.2],[-101.2,-30.7],[-78.8,-29],[-78.2,-33.2],[-62.6,-30.7],[-138.6,-38],[-120.7,-38.8],[-108.2,-36.8],[-113.8,-42.5],[-64.3,-40],[-57.9,-43],[-90.5,-45.9],[-60.6,-47],[-97.8,-50.3],[-65.7,-53.2],[-144.5,-54.9],[-55.6,-56.9],[-92.2,-58.8],[-78.2,-64.4],[-97.5,-54],[-94,-60],[-113,8],[-118,12],[-106,15],[-112,24],[-126,12],[-127,24],[-118,-14],[-112,-12],[-105,-10],[-128,-20],[-113,-32],[-106,-14],[-140,-16],[-145,-17],[-99,-8],[-128,-30],[-117,-24],
[-136,16],[-128,18],[-119,16],[-111,14],[-104,20],[-115,7],[-108,0],[-100,-3],[-122,-9],[-114,-8],[-107,-6],[-130,-12],[-137,-6],[-125,-14],[-119,-21],[-112,-27],[-106,-29],[-99,-24],[-118,-32],[-125,-37],[-115,-37],[-110,-29],[-134,-24],[-141,-22],[-131,-27],[-103,-22],[-96,-14],[-92,-20],[-98,12],[-92,18],[-126,32],[-118,26],[-112,18],[-135,-34],[-122,-24],[-113,-4],[-120,4],[-128,6],[-135,3],[-104,6]];

/* ---------- panel D data ---------- */
const barCellTypes=['SSCs','Differentiating spermatogonia','Early primary spermatocyte','Late primary spermatocyte','Round spermatid','Elongating spermatid','Elongated spermatid','Sertoli cells','Leydig cells','Endothelial cells','Smooth muscle cells','Testicular peritubular cells','Macrophages'];
const phaseS=[39.6,72.8,46.4,3.6,7.5,3.7,4.8,9.1,3,8.3,3.3,4.7,5.3];
const phaseG2M=[56.7,26.9,53.6,95.1,43.9,12,33.1,17.7,.7,1.8,1,1.4,3.8];
const phaseG1=[3.7,.3,0,1.3,48.6,84.3,62.1,73.2,96.3,89.9,95.7,93.9,90.9];
const barYTicks=[0,10,20,30,40,50,60,70,80,90,100];

/* ---------- panel E data ---------- */
const cellTypes=['SSCs','Differentiating spermatogonia','Early primary spermatocyte','Late primary spermatocyte','Round spermatid','Elongating spermatid','Elongated spermatid','Sertoli cells','Leydig cells','Endothelial cells','Smooth muscle cells','Testicular peritubular cells','Macrophages'];
const cellTypeColors=['#1f77b4','#ff7f0e','#2ca02c','#d62728','#9467bd','#8c564b','#e377c2','#7f7f7f','#bcbd22','#17becf','#aec7e8','#ffbb78','#98df8a'];
const cellTypeCounts=[48,24,61,27,71,0,101,24,45,152,91,174,34];
const cellLabelWidths=[31,188,175,171,106,133,130,73,74,103,130,165,83];
const exprLevels=[-.3,-.45,-.9,.25,1.3,1.6,2,2.5];
const exprScale=[[-1.15,0,51,255],[0,8,20,94],[.7,0,0,0],[1.5,125,122,30],[2.5,255,238,34]];
const exprTickValues=[2.5,2,1.5,1,.5,0,-.5,-1];
const exprRowTones=[-.45,-.2,-.35,-.5,-.3,-.2,-.4,-.25,-.2,-.55,-.35,-.2,-.5,-.3,-.45,-.2,-.3,-.15,-.3,-.45,-.25,-.5,-.1,-.4,-.2,-.3,-.15,-.45,-.25,-.55,-.3,-.2,-.15,-.3,-.5,-.2,-.3,-.15,-.25,-.5,-.3,-.15,-.2,-.3,-.2,-.45,-.55,-.35,-.25,-.55];
const exprRows=[
"414566564104401004000104001000040010004001000104000100401004",
"140465645066640400100040001004000100040001004000010004000100",
"404066654140400010000100040000100040000100004000100000401000",
"140466564044410001004000100004000100004000100040000100004040",
"414556665444010040001000400100040010000400100400010040040404",
"440456566140000100004000001000040000100004000010000400001000",
"140465666440001000040000100400001000040001000040000100040100",
"404556544444401004000100004001000040010000400010040010000400",
"044566654014000010004000100040000100040001000040010000400100",
"445666665122222222222222222133343343343333311111111112222222",
"404456564646044000100400010040001000400100040001000400010040",
"140565664140000100004000100004001000040001000400010000400100",
"141466566004555554444000101000400100040010000400100055555555",
"404566654400100400010004001000400010004000100040001000400040",
"140456664100001000040001000040001000400010000400010000400100",
"414566564040010004000010004000010004000100004000100040001000",
"140456654100556554000100004000100004000100040000100004000100",
"404566540400001000400010000400010000400010000400010000400010",
"140466654444440100004000100004000100040001000040001000040001",
"044465654000100040001000400010004000100040001000400010004040",
"414566666440010004000100040001000400010004000100040001000100",
"040145664145555040040100040010004000100040001004000100040404",
"333444544411111333443334553345443333333333333344333111111111",
"140566665540004000100000400010000400001000040001000000400100",
"404556656450001000040000100004000010000400001000040000010040",
"140465776440100004000100000400010000040001000004000100000400",
"044466777540000100040000100040000100004000100004000010000400",
"414566656541000040001000040000100040000100004000010000400100",
"140445665640000100004000010004000010000400001000040000100400",
"445465556544414040404140404041404040414040404145464040411140",
"545566554440400100040001000400010004000100040001000400010040",
"404456565445540040001000400010000400010004000100040001000400",
"140466655550401000040000100004000010000400001000040000100100",
"040456644544400100004000100000400001000040000100040000100400",
"140565644144444000011222444454445544454445544454445111111111",
"545556555554443333221222122122222222222222212222222223334443",
"404566665440001000400010000400010004000010000400010000400100",
"140466664400100001000040000100004000010000400001000040000100",
"044456645545400001000100004000010000400001000040000100004000",
"101104141441466767761111111111111111111111111111111111165656",
"404556564145144000100004000010000400001000040000100004000100",
"140566654545400010000400010000400010000040001000040000100040",
"404566655440001000040000100004000010000040000100004000010000",
"040465664544410001000040001000400001000400010000400010004000",
"140445544140000400010000445040540000004004555544545550000100",
"414566564544010004001100044414040414041404440414040414044100",
"445566654140011111111104444444444444444444444444441111144410",
"404556664455441000400104400444040414044404404140444040100410",
"040445677665676004000100040010004000100040001000400010004040",
"140145666441041122222222440440414044041404440414044041144010"];

/* ---------- helpers ---------- */
const NS='http://www.w3.org/2000/svg';
function make(tag,parent,attrs){
  const el=document.createElementNS(NS,tag);
  for(const k in attrs) el.setAttribute(k,attrs[k]);
  parent.appendChild(el);
  return el;
}
function byId(id){return document.getElementById(id);}
function ramp(scale,v){
  if(v<=scale[0][0]) return 'rgb('+scale[0].slice(1).join(',')+')';
  for(let i=1;i<scale.length;i++){
    if(v<=scale[i][0]){
      const a=scale[i-1],b=scale[i],t=(v-a[0])/(b[0]-a[0]);
      return 'rgb('+[1,2,3].map(function(k){return Math.round(a[k]+(b[k]-a[k])*t);}).join(',')+')';
    }
  }
  const l=scale[scale.length-1];
  return 'rgb('+l.slice(1).join(',')+')';
}
function fillGradient(id,scale){
  const g=byId(id),lo=scale[0][0],hi=scale[scale.length-1][0];
  scale.forEach(function(s){
    make('stop',g,{offset:((s[0]-lo)/(hi-lo)*100)+'%','stop-color':'rgb('+s.slice(1).join(',')+')'});
  });
}
fillGradient('cbarA',corrScale);
fillGradient('cbarE',exprScale);

/* ---------- panel A ---------- */
const corrX=function(i){return 54+i*6.41;};
const corrY=function(j){return 185+j*5.61;};
const corrCluster=[];
corrClusterSizes.forEach(function(n,c){for(let k=0;k<n;k++)corrCluster.push(c);});
const corrG=byId('corrCells');
for(let j=0;j<corrCluster.length;j++){
  for(let i=0;i<corrCluster.length;i++){
    const v=corrBlocks[corrCluster[j]][corrCluster[i]]+geneOffsets[i]+geneOffsets[j];
    const cell=make('rect',corrG,{x:corrX(i),y:corrY(j),width:6.9,height:6.1,fill:ramp(corrScale,v)});
    
    
  }
}
corrDiagonalValues.forEach(function(v,i){
  const d=make('line',byId('corrDiagonal'),{x1:corrX(i),y1:corrY(i),x2:corrX(i+1),y2:corrY(i+1),stroke:ramp(corrScale,v),'stroke-width':2});
  
  
});
const corrBarY=function(v){return 531-490*v;};
corrTickValues.forEach(function(v,i){
  const t=make('text',byId('corrTicks'),{x:919,y:corrBarY(v)+4.5,'font-size':13,fill:'#5f6f8f'});
  
  
  t.textContent=corrTickLabels[i];
});
const cladeColors={b:'#2a8fe0',g:'#3d9970',r:'#ff4136'};
const topLeaf=function(f){return 54+f*643;};
const topDist=function(d){return 139-82*d;};
const sideLeaf=function(f){return 185+f*565;};
const sideDist=function(d){return 741+120*d;};
function drawLink(a,b,h,ha,hb,color,width){
  const top=make('path',byId('topDendro'),{d:'M'+topLeaf(a)+' '+topDist(ha)+'V'+topDist(h)+'H'+topLeaf(b)+'V'+topDist(hb),fill:'none',stroke:color,'stroke-width':width});
  
  
  const side=make('path',byId('sideDendro'),{d:'M'+sideDist(ha)+' '+sideLeaf(a)+'H'+sideDist(h)+'V'+sideLeaf(b)+'H'+sideDist(hb),fill:'none',stroke:color,'stroke-width':width});
  
  
}
treeLeft.forEach(function(a,i){
  drawLink(a,treeRight[i],treeHeight[i],treeLeftChild[i],treeRightChild[i],cladeColors[treeClade[i]],i>=15?4:1.8);
});
combLeft.forEach(function(a,i){
  const c=a<.445?cladeColors.g:cladeColors.r;
  const w=combRight[i]-a;
  drawLink(a,combRight[i],combHeight[i],0,0,c,1.8);
  drawLink(a+w*.2,a+w*.8,combHeight[i]*.75,0,0,c,1.8);
  drawLink(a+w*.35,a+w*.65,combHeight[i]*.5,0,0,c,1.8);
  drawLink(a+w*.1,a+w*.5,combHeight[i]*.3,0,0,c,1.8);
});

/* ---------- panel B ---------- */
const volX=function(v){return 1437+68.4*v;};
const volY=function(v){return 701-96*v;};
const volAxes=byId('volcanoAxes');
volcanoXTicks.forEach(function(v){
  const g=make('line',volAxes,{x1:volX(v),x2:volX(v),y1:103,y2:710,stroke:'#dedede','stroke-width':2});
  
  
  const t=make('text',volAxes,{transform:'translate('+volX(v)+',741) scale(1.1,1)','text-anchor':'middle','font-size':19,fill:'#444'});
  
  
  t.textContent=String(v).replace('-','\u2212');
});
volcanoYTicks.forEach(function(v){
  const g=make('line',volAxes,{x1:1046,x2:1924,y1:volY(v),y2:volY(v),stroke:'#dedede','stroke-width':2});
  
  
  const t=make('text',volAxes,{transform:'translate(1038,'+(volY(v)+10)+') scale(1.1,1)','text-anchor':'end','font-size':19,fill:'#444'});
  
  
  t.textContent=v;
});
const volPts=byId('volcanoPoints');
function volPoint(x,y,color,opacity,name,rx,ry){
  const p=make('ellipse',volPts,{cx:volX(x),cy:volY(y),rx:rx,ry:ry,fill:color,'fill-opacity':opacity});
  
  
}
notSigLevels.forEach(function(y,i){
  notSigRows[i].forEach(function(x){volPoint(x,y,'#a6a6a6',1,'not-sig-point',9.6,7);});
});
notSigScatter.forEach(function(p){volPoint(p[0],p[1],'#a6a6a6',.8,'not-sig-point',8.6,6.2);});
downRegulated.forEach(function(p){volPoint(p[0],p[1],'#45b5d4',.72,'down-regulated-point',8.6,6.2);});
upRegulated.forEach(function(p){volPoint(p[0],p[1],'#f50a0a',.75,'up-regulated-point',8.6,6.2);});
[-1,1].forEach(function(v){
  const l=make('line',volAxes,{x1:volX(v),x2:volX(v),y1:103,y2:710,stroke:'#888','stroke-width':1.2,'stroke-dasharray':'4 2'});
  
  
});
const pLine=make('line',byId('panelB'),{x1:1046,x2:1924,y1:volY(1.3),y2:volY(1.3),stroke:'#888','stroke-width':1.2,'stroke-dasharray':'2 2'});



/* ---------- panel C ---------- */
const pcaX=function(v){return 665+2.624*v;};
const pcaY=function(v){return 1179.4-1.778*v;};
const pcaAxes=byId('pcaAxes');
const spineL=make('line',pcaAxes,{x1:202,x2:202,y1:809,y2:1377,stroke:'#222','stroke-width':2});


const spineB=make('line',pcaAxes,{x1:201,x2:1144,y1:1377,y2:1377,stroke:'#222','stroke-width':2});


pcaXTicks.forEach(function(v){
  const k=make('line',pcaAxes,{x1:pcaX(v),x2:pcaX(v),y1:1377,y2:1383,stroke:'#222','stroke-width':1.5});
  
  
  const t=make('text',pcaAxes,{transform:'translate('+pcaX(v)+',1402) scale(1.5,1)','text-anchor':'middle','font-size':17,fill:'#444'});
  
  
  t.textContent=String(v).replace('-','\u2212');
});
pcaYTicks.forEach(function(v){
  const k=make('line',pcaAxes,{x1:196,x2:202,y1:pcaY(v),y2:pcaY(v),stroke:'#222','stroke-width':1.5});
  
  
  const t=make('text',pcaAxes,{transform:'translate(188,'+(pcaY(v)+6)+') scale(1.5,1)','text-anchor':'end','font-size':17,fill:'#444'});
  
  
  t.textContent=String(v).replace('-','\u2212');
});
const pcaG=byId('pcaPoints');
spermatids1.forEach(function(p){
  const m=make('ellipse',pcaG,{cx:pcaX(p[0]),cy:pcaY(p[1]),rx:8.5,ry:5.8,fill:'#7d84ee','fill-opacity':.85,stroke:'#fff','stroke-opacity':.7,'stroke-width':1});
  
  
});
spermatids4.forEach(function(p){
  const x=pcaX(p[0]),y=pcaY(p[1]);
  const m=make('polygon',pcaG,{points:(x-9)+','+y+' '+x+','+(y-6.5)+' '+(x+9)+','+y+' '+x+','+(y+6.5),fill:'#f0684e','fill-opacity':.85,stroke:'#fff','stroke-opacity':.6,'stroke-width':1});
  
  
});
stemCells.forEach(function(p){
  const m=make('rect',pcaG,{x:pcaX(p[0])-8.5,y:pcaY(p[1])-5.5,width:17,height:11,fill:'#22c998','fill-opacity':.85,stroke:'#fff','stroke-opacity':.6,'stroke-width':1});
  
  
});
zygotene.forEach(function(p){
  const x=pcaX(p[0]),y=pcaY(p[1]);
  const m=make('path',pcaG,{d:'M'+(x-7)+' '+(y-4.8)+'L'+(x+7)+' '+(y+4.8)+'M'+(x+7)+' '+(y-4.8)+'L'+(x-7)+' '+(y+4.8),fill:'none',stroke:'#ab66f0','stroke-opacity':.85,'stroke-width':3});
  
  
});

/* ---------- panel D ---------- */
const barX=function(i){return 140+i*61;};
const barY=function(v){return 2003.4-v*4.998;};
const barAxes=byId('barAxes');
const barSpineL=make('line',barAxes,{x1:103,x2:103,y1:1478,y2:2028,stroke:'#444','stroke-width':1.6});


const barSpineB=make('line',barAxes,{x1:102,x2:907.5,y1:2028,y2:2028,stroke:'#444','stroke-width':1.6});


barYTicks.forEach(function(v){
  const t=make('text',barAxes,{transform:'translate(98,'+(barY(v)+5)+') scale(.85,1)','text-anchor':'end','font-size':14,fill:'#333'});
  
  
  t.textContent=v+'%';
});
barCellTypes.forEach(function(name,i){
  const k=make('line',barAxes,{x1:barX(i),x2:barX(i),y1:2028,y2:2033,stroke:'#444','stroke-width':1.3});
  
  
  const t=make('text',barAxes,{transform:'translate('+(barX(i)+8)+',2042) rotate(-49)','text-anchor':'end','font-size':13,'font-style':'italic',fill:'#333'});
  
  
  t.textContent=name;
  const s=make('rect',byId('barMarks'),{x:barX(i)-15.3,y:barY(phaseS[i]),width:30.6,height:barY(0)-barY(phaseS[i]),fill:'#f5df3e'});
  
  
  const g2=make('rect',byId('barMarks'),{x:barX(i)-15.3,y:barY(phaseS[i]+phaseG2M[i]),width:30.6,height:barY(0)-barY(phaseG2M[i]),fill:'#f00000'});
  
  
  const g1=make('rect',byId('barMarks'),{x:barX(i)-15.3,y:barY(phaseS[i]+phaseG2M[i]+phaseG1[i]),width:30.6,height:barY(0)-barY(phaseG1[i]),fill:'#3a4b94'});
  
  
});

/* ---------- panel E ---------- */
const stripX=function(n){return 1045.4+n*.6352;};
let stripCum=0;
cellTypeCounts.forEach(function(n,i){
  const r=make('rect',byId('cellStrip'),{x:stripX(stripCum),y:1505,width:n*.6352,height:17,fill:cellTypeColors[i]});
  
  
  stripCum+=n;
});
const exprX=function(c){return 1045.4+c*10.153;};
const exprY=function(r){return 1527+r*12.62;};
exprRows.forEach(function(row,r){
  const band=make('rect',byId('exprCells'),{x:exprX(0),y:exprY(r),width:609.2,height:12.9,fill:ramp(exprScale,exprRowTones[r])});
  
  
  row.split('').forEach(function(ch,c){
    if(ch==='0') return;
    const faint=ch==='1'||ch==='4'||ch==='5';
    const w=!faint?10.4:(c>=14?(ch==='5'?6:2.6):(ch==='1'?10.4:6.5));
    const x=exprX(c)+(10.15-w)/2;
    const cell=make('rect',byId('exprCells'),{x:x,y:exprY(r)+1,width:w,height:10.8,fill:ramp(exprScale,exprLevels[+ch])});
    
    
  });
});
const exprBarY=function(v){return 1694-66.4*v;};
exprTickValues.forEach(function(v){
  const t=make('text',byId('exprTicks'),{x:1679,y:exprBarY(v)+6,'font-size':15,fill:'#333'});
  
  
  t.textContent=v;
});
cellTypes.forEach(function(name,i){
  const cy=1558+i*24.15;
  const sw=make('rect',byId('cellLegend'),{x:1708.6,y:cy-12.1,width:17.8,height:24.2,fill:cellTypeColors[i]});
  
  
  const t=make('text',byId('cellLegend'),{x:1730,y:cy+6,'font-size':17,fill:'#333',textLength:cellLabelWidths[i],lengthAdjust:'spacingAndGlyphs'});
  
  
  t.textContent=name;
});
</script>
</body>
</html>
